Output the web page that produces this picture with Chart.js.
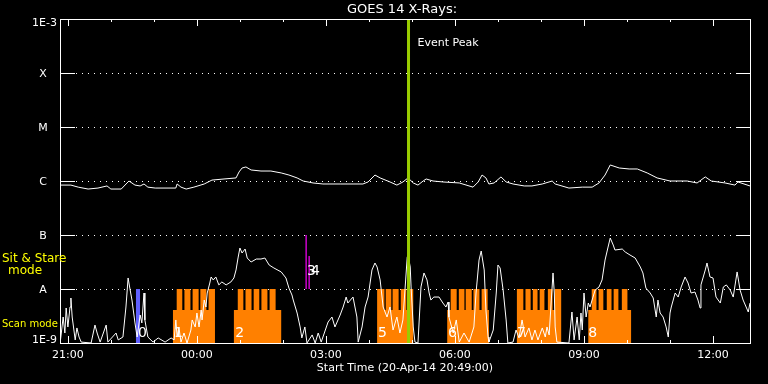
<!DOCTYPE html>
<html>
<head>
<meta charset="utf-8">
<script src="https://cdn.jsdelivr.net/npm/chart.js@4.4.1/dist/chart.umd.min.js"></script>
<style>
  html, body { margin: 0; padding: 0; background: #000; }
  canvas { display: block; }
</style>
</head>
<body>
<canvas id="goes" width="768" height="384"></canvas>
<script>
// times are decimal hours from 20-Apr-14 00:00 (24 = 21-Apr 00:00)
const startTime = 20.8167;   // 20:49
const endTime = 36.8833;     // 12:53

// GOES 14 long channel (1-8 A), W/m^2
const longTimes = [
  20.82, 21.07, 21.24, 21.47, 21.70, 21.91, 22.00, 22.24, 22.42, 22.56,
  22.68, 22.77, 22.86, 23.03, 23.51, 23.54, 23.63, 23.75, 23.93, 24.17,
  24.35, 24.63, 24.91, 24.98, 25.05, 25.14, 25.26, 25.49, 25.72, 25.96,
  26.14, 26.33, 26.47, 26.70, 26.93, 27.33, 27.63, 27.86, 27.98, 28.14,
  28.26, 28.49, 28.65, 28.79, 28.91, 29.03, 29.14, 29.26, 29.33, 29.49,
  29.72, 30.10, 30.42, 30.54, 30.63, 30.72, 30.79, 30.91, 31.07, 31.19,
  31.35, 31.61, 31.79, 32.03, 32.26, 32.33, 32.65, 32.96, 33.19, 33.35,
  33.49, 33.61, 33.82, 34.05, 34.24, 34.47, 34.70, 35.00, 35.40, 35.63,
  35.82, 35.96, 36.28, 36.51, 36.58, 36.86
];
const longFlux = [
  8.4e-7, 8.4e-7, 7.7e-7, 7.1e-7, 7.4e-7, 8.1e-7, 7.1e-7, 7.1e-7, 1.0e-6, 8.4e-7,
  8.1e-7, 8.8e-7, 7.7e-7, 7.4e-7, 7.4e-7, 8.8e-7, 7.7e-7, 7.1e-7, 7.7e-7, 8.8e-7,
  1.04e-6, 1.09e-6, 1.14e-6, 1.47e-6, 1.74e-6, 1.82e-6, 1.60e-6, 1.53e-6, 1.53e-6, 1.41e-6,
  1.29e-6, 1.14e-6, 1.0e-6, 9.2e-7, 8.8e-7, 8.8e-7, 8.8e-7, 8.8e-7, 9.6e-7, 1.29e-6,
  1.14e-6, 9.6e-7, 8.4e-7, 9.6e-7, 1.14e-6, 9.2e-7, 8.4e-7, 1.0e-6, 1.09e-6, 1.0e-6,
  9.6e-7, 9.2e-7, 7.7e-7, 9.6e-7, 1.29e-6, 1.14e-6, 8.8e-7, 9.2e-7, 1.19e-6, 9.6e-7,
  8.8e-7, 8.1e-7, 8.1e-7, 8.8e-7, 1.0e-6, 8.8e-7, 7.4e-7, 7.7e-7, 7.7e-7, 9.2e-7,
  1.29e-6, 1.98e-6, 1.74e-6, 1.67e-6, 1.67e-6, 1.41e-6, 1.14e-6, 1.0e-6, 1.0e-6, 9.2e-7,
  1.19e-6, 1.0e-6, 9.2e-7, 8.4e-7, 9.6e-7, 8.1e-7
];

// GOES 14 short channel (0.5-4 A), W/m^2
const shortTimes = [
  20.82, 20.89, 20.93, 20.96, 21.00, 21.05, 21.07, 21.10, 21.14, 21.17,
  21.21, 21.26, 21.31, 21.54, 21.63, 21.68, 21.75, 21.89, 21.93, 22.12,
  22.17, 22.28, 22.35, 22.40, 22.44, 22.49, 22.56, 22.61, 22.68, 22.72,
  22.77, 22.79, 22.86, 22.98, 23.10, 23.26, 23.40, 23.47, 23.51, 23.54,
  23.58, 23.63, 23.70, 23.77, 23.86, 23.89, 23.96, 24.00, 24.05, 24.10,
  24.12, 24.17, 24.21, 24.24, 24.30, 24.33, 24.38, 24.44, 24.51, 24.58,
  24.68, 24.79, 24.86, 24.91, 24.96, 25.00, 25.05, 25.12, 25.17, 25.26,
  25.38, 25.49, 25.58, 25.68, 25.79, 25.96, 26.07, 26.14, 26.21, 26.24,
  26.33, 26.40, 26.44, 26.51, 26.56, 26.68, 26.75, 26.82, 26.89, 27.05,
  27.14, 27.21, 27.33, 27.40, 27.47, 27.51, 27.61, 27.63, 27.72, 27.75,
  27.84, 27.91, 27.98, 28.07, 28.14, 28.19, 28.26, 28.33, 28.42, 28.49,
  28.56, 28.65, 28.72, 28.79, 28.89, 28.91, 28.96, 28.98, 29.03, 29.07,
  29.14, 29.21, 29.28, 29.35, 29.40, 29.44, 29.51, 29.63, 29.72, 29.79,
  29.84, 29.86, 29.96, 30.03, 30.10, 30.21, 30.33, 30.44, 30.49, 30.56,
  30.61, 30.68, 30.72, 30.77, 30.79, 30.89, 30.96, 31.00, 31.05, 31.12,
  31.19, 31.23, 31.35, 31.42, 31.49, 31.56, 31.63, 31.72, 31.79, 31.86,
  31.93, 32.03, 32.10, 32.14, 32.19, 32.24, 32.28, 32.31, 32.33, 32.37,
  32.65, 32.72, 32.77, 32.84, 32.89, 32.93, 32.96, 33.00, 33.05, 33.10,
  33.14, 33.21, 33.26, 33.35, 33.42, 33.49, 33.56, 33.61, 33.68, 33.72,
  33.89, 33.96, 34.07, 34.19, 34.31, 34.37, 34.44, 34.54, 34.61, 34.68,
  34.72, 34.77, 34.84, 34.91, 34.96, 35.00, 35.03, 35.12, 35.19, 35.26,
  35.35, 35.42, 35.49, 35.58, 35.65, 35.70, 35.72, 35.82, 35.86, 35.93,
  36.00, 36.07, 36.17, 36.24, 36.31, 36.40, 36.47, 36.56, 36.63, 36.70,
  36.77, 36.82, 36.86
];
const shortFlux = [
  1.0e-9, 3.03e-9, 1.53e-9, 4.45e-9, 1.98e-9, 4.64e-9, 6.81e-9, 3.03e-9, 1.74e-9, 1.14e-9,
  1.90e-9, 1.29e-9, 1.04e-9, 1.0e-9, 2.15e-9, 1.53e-9, 1.04e-9, 2.15e-9, 1.04e-9, 1.53e-9,
  1.14e-9, 1.29e-9, 4.64e-9, 1.60e-8, 1.04e-8, 6.25e-9, 2.35e-9, 1.29e-9, 3.30e-9, 2.35e-9,
  8.43e-9, 2.67e-9, 1.29e-9, 1.04e-9, 1.24e-9, 1.04e-9, 1.24e-9, 1.14e-9, 2.67e-9, 1.29e-9,
  1.98e-9, 1.04e-9, 1.53e-9, 1.0e-9, 1.74e-9, 2.67e-9, 1.98e-9, 3.59e-9, 1.98e-9, 4.08e-9,
  2.67e-9, 6.25e-9, 4.64e-9, 8.43e-9, 1.29e-8, 1.67e-8, 1.47e-8, 1.67e-8, 1.19e-8, 1.35e-8,
  1.19e-8, 1.35e-8, 1.60e-8, 2.25e-8, 3.91e-8, 5.74e-8, 4.64e-8, 5.50e-8, 3.75e-8, 3.16e-8,
  3.59e-8, 3.59e-8, 3.75e-8, 2.78e-8, 2.45e-8, 2.07e-8, 1.60e-8, 1.04e-8, 7.74e-9, 6.25e-9,
  3.59e-9, 1.98e-9, 1.24e-9, 1.98e-9, 1.0e-9, 1.41e-9, 1.0e-9, 1.53e-9, 1.04e-9, 2.45e-9,
  3.03e-9, 1.98e-9, 3.30e-9, 4.64e-9, 7.10e-9, 5.50e-9, 6.81e-9, 7.10e-9, 3.03e-9, 1.04e-9,
  1.98e-9, 4.64e-9, 7.10e-9, 2.25e-8, 3.03e-8, 2.55e-8, 1.47e-8, 4.64e-9, 3.03e-9, 4.64e-9,
  1.74e-9, 3.03e-9, 1.53e-9, 2.67e-9, 3.91e-8, 4.26e-8, 2.55e-8, 1.09e-8, 1.98e-9, 1.04e-9,
  1.0e-9, 1.09e-8, 1.98e-8, 1.47e-8, 8.43e-9, 6.25e-9, 7.10e-9, 7.10e-9, 5.50e-9, 4.64e-9,
  5.74e-9, 3.03e-9, 1.53e-9, 2.67e-9, 1.04e-9, 1.53e-9, 1.04e-9, 1.98e-9, 8.43e-9, 3.44e-8,
  5.05e-8, 2.25e-8, 4.08e-9, 1.29e-9, 1.04e-9, 1.74e-9, 8.43e-9, 2.78e-8, 2.45e-8, 9.57e-9,
  2.67e-9, 1.0e-9, 1.04e-9, 1.74e-9, 1.24e-9, 2.67e-9, 1.29e-9, 1.90e-9, 1.14e-9, 1.74e-9,
  1.14e-9, 1.90e-9, 1.29e-9, 1.98e-9, 1.41e-9, 6.25e-9, 1.98e-8, 8.43e-9, 1.98e-9, 1.04e-9,
  1.0e-9, 3.75e-9, 1.14e-9, 3.03e-9, 1.14e-9, 3.59e-9, 1.74e-9, 8.43e-9, 3.03e-9, 5.50e-9,
  4.64e-9, 7.10e-9, 9.57e-9, 1.09e-8, 1.47e-8, 3.44e-8, 5.99e-8, 8.79e-8, 6.52e-8, 5.27e-8,
  5.50e-8, 4.84e-8, 4.26e-8, 3.75e-8, 2.55e-8, 1.98e-8, 1.04e-8, 8.43e-9, 6.81e-9, 3.03e-9,
  6.25e-9, 3.59e-9, 3.03e-9, 1.98e-9, 1.29e-9, 3.59e-9, 4.64e-9, 8.43e-9, 7.10e-9, 1.09e-8,
  1.67e-8, 1.29e-8, 8.43e-9, 8.79e-9, 6.25e-9, 4.45e-9, 1.19e-8, 2.25e-8, 3.03e-8, 1.67e-8,
  1.60e-8, 7.10e-9, 5.50e-9, 1.09e-8, 1.19e-8, 9.57e-9, 7.10e-9, 2.07e-8, 9.57e-9, 6.25e-9,
  4.64e-9, 3.75e-9, 5.50e-9
];

// raster scan periods (orange) with their comb teeth
const scanStart = [23.44, 24.86, 28.19, 29.82, 31.44, 33.10];
const scanEnd = [24.42, 25.96, 29.03, 30.79, 32.47, 34.10];
const toothStart = [
  [23.53, 23.71, 23.90, 24.08, 24.27],
  [24.95, 25.13, 25.32, 25.50, 25.69],
  [28.19, 28.39, 28.55, 28.74, 28.92],
  [29.90, 30.09, 30.25, 30.43, 30.62],
  [31.44, 31.64, 31.81, 31.97, 32.16, 32.32],
  [33.18, 33.34, 33.53, 33.69, 33.88]
];
const toothEnd = [
  [23.66, 23.85, 24.04, 24.22, 24.42],
  [25.08, 25.27, 25.45, 25.64, 25.83],
  [28.36, 28.52, 28.69, 28.87, 29.03],
  [30.04, 30.22, 30.39, 30.57, 30.76],
  [31.59, 31.76, 31.92, 32.08, 32.27, 32.47],
  [33.29, 33.45, 33.64, 33.80, 34.01]
];
const scanBase = 4.1e-9;
const scanTop = 1e-8;

// sit & stare pointing (magenta) and the single blue pointing
const stareTimes = [26.54, 26.61];
const stareTop = [1e-7, 4.1e-8];
const blueStart = 22.58;
const blueEnd = 22.68;

const peakTime = 28.92;   // Event Peak ~04:55

const levelValues = [1e-3, 1e-4, 1e-5, 1e-6, 1e-7, 1e-8, 1e-9];
const levelNames = ['1E-3', 'X', 'M', 'C', 'B', 'A', '1E-9'];

const markerNames = ['0', '1', '2', '3', '4', '5', '6', '7', '8'];
const markerTimes = [22.63, 23.47, 24.89, 26.56, 26.65, 28.21, 29.84, 31.44, 33.10];
const markerFlux = [1.5e-9, 1.5e-9, 1.5e-9, 2.15e-8, 2.15e-8, 1.5e-9, 1.5e-9, 1.5e-9, 1.5e-9];

const FONT = '"DejaVu Sans", sans-serif';

function pairs(xs, ys) {
  return xs.map((t, i) => ({ x: t, y: ys[i] }));
}

const scanPts = [];
scanStart.forEach((s, i) => {
  scanPts.push({ x: s, y: scanBase });
  toothStart[i].forEach((t, j) => {
    scanPts.push({ x: t, y: scanTop });
    scanPts.push({ x: toothEnd[i][j], y: scanBase });
  });
  scanPts.push({ x: scanEnd[i], y: 1e-9 });
});

const decor = {
  id: 'decor',
  beforeDraw(chart) {
    const c = chart.ctx;
    c.save();
    c.fillStyle = '#000';
    c.fillRect(0, 0, chart.width, chart.height);
    c.restore();
  },
  beforeDatasetsDraw(chart) {
    const c = chart.ctx, a = chart.chartArea, y = chart.scales.y;
    c.save();
    c.strokeStyle = '#fff';
    c.lineWidth = 1;
    c.setLineDash([1, 5]);
    levelValues.slice(1, -1).forEach(v => {
      const py = Math.round(y.getPixelForValue(v)) + 0.5;
      c.beginPath();
      c.moveTo(a.left + 16, py);
      c.lineTo(a.right - 15, py);
      c.stroke();
    });
    c.restore();
  },
  afterDatasetsDraw(chart) {
    const c = chart.ctx, a = chart.chartArea;
    const x = chart.scales.x, y = chart.scales.y;
    c.save();
    c.strokeStyle = '#fff';
    c.lineWidth = 1;
    c.strokeRect(a.left + 0.5, a.top + 0.5, a.right - a.left - 1, a.bottom - a.top);

    // level ticks on both sides
    c.beginPath();
    levelValues.forEach(v => {
      const py = Math.round(y.getPixelForValue(v)) + 0.5;
      c.moveTo(a.left, py); c.lineTo(a.left + 15, py);
      c.moveTo(a.right - 15, py); c.lineTo(a.right, py);
    });
    // hour ticks top and bottom, longer every 3 h
    x.ticks.forEach(t => {
      const px = Math.round(x.getPixelForValue(t.value)) + 0.5;
      const len = t.value % 3 === 0 ? 7 : 3;
      c.moveTo(px, a.top); c.lineTo(px, a.top + len);
      c.moveTo(px, a.bottom); c.lineTo(px, a.bottom - len);
    });
    c.stroke();

    // level names
    c.fillStyle = '#fff';
    c.font = '11px ' + FONT;
    c.textBaseline = 'middle';
    levelValues.forEach((v, i) => {
      const py = y.getPixelForValue(v);
      const name = levelNames[i];
      if (name.startsWith('1E')) {
        c.textAlign = 'right';
        c.fillText(name, a.left - 3, py + (i === 0 ? 4 : -3));
      } else {
        c.textAlign = 'center';
        c.fillText(name, a.left - 17, py + 1);
      }
    });

    // pointing numbers
    c.font = '14px ' + FONT;
    c.textAlign = 'left';
    markerNames.forEach((n, i) => {
      c.fillText(n, x.getPixelForValue(markerTimes[i]), y.getPixelForValue(markerFlux[i]));
    });

    // titles
    c.font = '13px ' + FONT;
    c.textAlign = 'center';
    c.fillText('GOES 14 X-Rays:', 402, 10);
    c.font = '11px ' + FONT;
    c.fillText('Start Time (20-Apr-14 20:49:00)', 405, 368);
    c.textAlign = 'left';
    c.fillText('Event Peak', x.getPixelForValue(peakTime) + 9, 43);

    // mode labels
    c.fillStyle = '#ffff00';
    c.font = '12px ' + FONT;
    c.fillText('Sit & Stare', 2, 259);
    c.textAlign = 'center';
    c.fillText('mode', 25, 271);
    c.textAlign = 'left';
    c.font = '10px ' + FONT;
    c.fillText('Scan mode', 2, 324);
    c.restore();
  }
};

const line = { pointRadius: 0, tension: 0, fill: false };

new Chart(document.getElementById('goes'), {
  type: 'line',
  data: {
    datasets: [
      { ...line, label: 'Event Peak', data: [{ x: peakTime, y: 1e-9 }, { x: peakTime, y: 1e-3 }],
        borderColor: '#99cc00', borderWidth: 3, order: 0 },
      { ...line, label: 'Long', data: pairs(longTimes, longFlux), borderColor: '#ffffff', borderWidth: 1, order: 1 },
      { ...line, label: 'Short', data: pairs(shortTimes, shortFlux), borderColor: '#ffffff', borderWidth: 1, order: 1 },
      ...stareTimes.map((t, i) => ({
        ...line, label: 'Stare ' + i, data: [{ x: t, y: 1e-8 }, { x: t, y: stareTop[i] }],
        borderColor: '#cc00cc', borderWidth: 1.5, order: 2
      })),
      { label: 'Blue', data: [{ x: blueStart, y: scanTop }, { x: blueEnd, y: 1e-9 }],
        stepped: true, pointRadius: 0, borderWidth: 0, fill: 'start',
        backgroundColor: '#6060ff', order: 3 },
      { label: 'Scan', data: scanPts, stepped: true, pointRadius: 0, borderWidth: 0,
        fill: 'start', backgroundColor: '#ff8000', order: 4 }
    ]
  },
  options: {
    responsive: false,
    animation: false,
    events: [],
    layout: { padding: { top: 19, right: 17, left: 0, bottom: 0 } },
    plugins: { legend: { display: false }, tooltip: { enabled: false }, title: { display: false } },
    scales: {
      x: {
        type: 'linear',
        min: startTime,
        max: endTime,
        grid: { display: false, drawTicks: false },
        border: { display: false },
        ticks: {
          stepSize: 1,
          includeBounds: false,
          autoSkip: false,
          maxRotation: 0,
          padding: 6,
          color: '#ffffff',
          font: { family: FONT, size: 11 },
          callback: v => v % 3 === 0 ? String(v % 24).padStart(2, '0') + ':00' : ''
        },
        afterFit: s => { s.height = 41; }
      },
      y: {
        type: 'logarithmic',
        min: 1e-9,
        max: 1e-3,
        grid: { display: false, drawTicks: false },
        border: { display: false },
        ticks: { display: false },
        afterFit: s => { s.width = 60; }
      }
    }
  },
  plugins: [decor]
});
</script>
</body>
</html>
